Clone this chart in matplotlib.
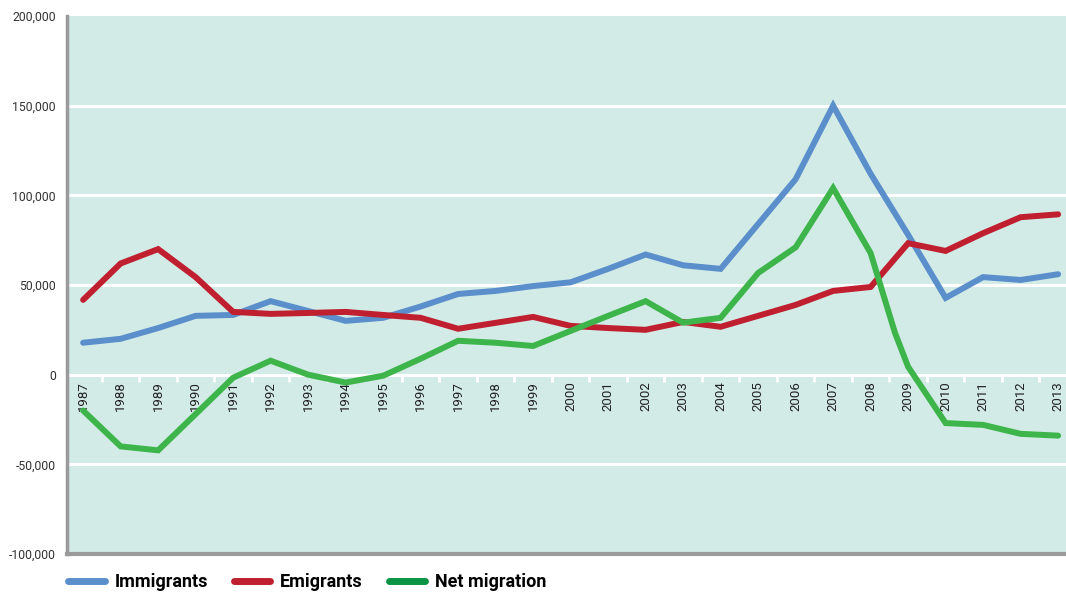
import matplotlib; matplotlib.use('Agg')
import matplotlib.pyplot as plt
from matplotlib.lines import Line2D
from matplotlib.ticker import FuncFormatter

years = list(range(1987, 2014))
immigrants = [17800, 20000, 26000, 32800, 33300, 41000, 35500, 30000, 31700, 38000,
              45000, 46700, 49400, 51500, 59000, 67000, 61000, 59000, 84000, 109000,
              150000, 112000, 78000, 42800, 54400, 52800, 56000]
emigrants = [41700, 62000, 70000, 54400, 35000, 33900, 34400, 35000, 33300, 31700,
             25600, 28900, 32200, 27200, 26000, 25000, 29400, 26700, 32800, 38900,
             46700, 48900, 73300, 69000, 78900, 87800, 89400]
net_years = [1987, 1988, 1989, 1990, 1991, 1992, 1993, 1994, 1995, 1996, 1997, 1998,
             1999, 2000, 2001, 2002, 2003, 2004, 2005, 2006, 2007, 2008, 2008.65,
             2009, 2010, 2011, 2012, 2013]
net = [-20000, -40000, -42200, -22000, -1700, 7800, 0, -4400, -600, 8900, 18900, 17800,
       16000, 24400, 32800, 41000, 29000, 31700, 56700, 71000, 104000, 67800, 23300,
       4400, -27000, -28000, -33000, -34000]

c_imm, c_emi, c_net, c_net_leg = '#5b8fcb', '#c01f30', '#3db54a', '#0a9444'
bg = '#d2ebe7'

fig = plt.figure(figsize=(10.66, 5.93), dpi=100)
ax = fig.add_axes([67/1066, 39/593, 999/1066, 538/593])
ax.set_facecolor(bg)
ax.set_xlim(1986.57, 2013.21)
ax.set_ylim(-100000, 200000)

for v in [-50000, 50000, 100000, 150000]:
    ax.axhline(v, color='white', lw=2.2, zorder=1)

ax.plot(years, immigrants, color=c_imm, lw=4.3, solid_capstyle='round', solid_joinstyle='miter', zorder=3)
ax.plot(years, emigrants, color=c_emi, lw=4.3, solid_capstyle='round', solid_joinstyle='miter', zorder=3)
ax.plot(net_years, net, color=c_net, lw=4.3, solid_capstyle='round', solid_joinstyle='miter', zorder=3)

# zero line carries the year labels
for s in ['top', 'right']:
    ax.spines[s].set_visible(False)
ax.spines['bottom'].set_position(('data', 0))
ax.spines['bottom'].set_color('white')
ax.spines['bottom'].set_linewidth(2.2)
ax.spines['bottom'].set_zorder(1)
ax.spines['left'].set_color('#9a9a9a')
ax.spines['left'].set_linewidth(2.5)
ax.axhline(-100000, color='#9a9a9a', lw=3, clip_on=False, zorder=2)

ax.set_xticks(years)
ax.set_xticklabels([str(y) for y in years], rotation=90, fontsize=9.5,
                   fontfamily='Roboto', color='#222222')
ax.set_xticks([y + 0.5 for y in years[:-1]], minor=True)
ax.tick_params(axis='x', which='major', length=0, pad=5)
ax.tick_params(axis='x', which='minor', length=5, width=2, color='white', direction='out')

ax.set_yticks(range(-100000, 200001, 50000))
ax.yaxis.set_major_formatter(FuncFormatter(lambda v, p: f'{int(v):,}'))
ax.tick_params(axis='y', length=0, pad=8, labelsize=8.8, labelcolor='#333333')
for t in ax.get_yticklabels():
    t.set_fontfamily('Roboto')

handles = [Line2D([], [], color=c_imm, lw=5, solid_capstyle='round'),
           Line2D([], [], color=c_emi, lw=5, solid_capstyle='round'),
           Line2D([], [], color=c_net_leg, lw=5, solid_capstyle='round')]
fig.legend(handles, ['Immigrants', 'Emigrants', 'Net migration'], loc='lower left',
           bbox_to_anchor=(0.049, -0.024), ncol=3, frameon=False, handlelength=2.0,
           columnspacing=1.45, handletextpad=0.55,
           prop={'family': 'Roboto', 'weight': 'bold', 'size': 13})

fig.savefig('out.png', dpi=100, facecolor='white')
